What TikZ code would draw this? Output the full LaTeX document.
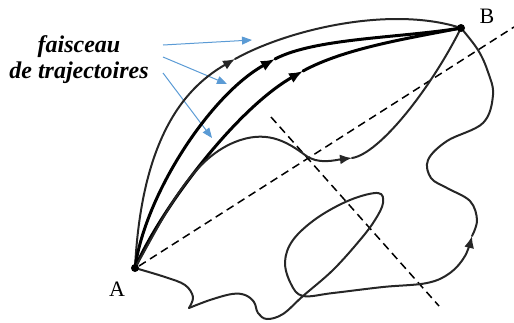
\documentclass[tikz,border=0pt]{standalone}
\usepackage{fontspec}
\setmainfont{Liberation Serif}
\usetikzlibrary{arrows.meta}
\definecolor{arrblue}{RGB}{91,155,213}
\begin{document}
\begin{tikzpicture}[x=1pt,y=-1pt,
  thincurve/.style={line width=2pt, draw=black!85, line cap=round, line join=round},
  thickcurve/.style={line width=3pt, draw=black, line cap=round},
  thintip/.style={-{Latex[length=12pt,width=10pt]}},
  thicktip/.style={-{Latex[length=14pt,width=11pt]}},
  dashline/.style={line width=1.5pt, dash pattern=on 8pt off 5pt},
  bluearrow/.style={draw=arrblue, line width=1pt, -{Triangle[length=10pt,width=8pt]}},
  dotnode/.style={circle, fill=black, inner sep=0pt, minimum size=8pt},
  lbl/.style={font=\fontsize{24}{26}\selectfont\bfseries\itshape, inner sep=0pt},
  ptlabel/.style={font=\fontsize{22}{24}\selectfont, inner sep=0pt}
]
\useasboundingbox (0,0) rectangle (514,322);

% points
\coordinate (A) at (135,268);
\coordinate (B) at (461,28);
\node[ptlabel] (lA) at (117,289) {A};
\node[ptlabel] (lB) at (487,16) {B};

% text
\node[lbl, anchor=base] (t1) at (79,52) {faisceau};
\node[lbl, anchor=base] (t2) at (79,78) {de trajectoires};

% blue arrows
\coordinate (b1s) at (163,45); \coordinate (b1e) at (252,40);
\coordinate (b2s) at (163,57); \coordinate (b2e) at (227,84);
\coordinate (b3s) at (163,73); \coordinate (b3e) at (212,138);
\draw[bluearrow] (b1s) -- (b1e);
\draw[bluearrow] (b2s) -- (b2e);
\draw[bluearrow] (b3s) -- (b3e);

% dashed lines
\coordinate (d1s) at (139,266); \coordinate (d1e) at (514,27);
\coordinate (d2s) at (271,117); \coordinate (d2e) at (439,306);
\draw[dashline] (d1s) -- (d1e);
\draw[dashline] (d2s) -- (d2e);

% outer grey curve
\coordinate (g1) at (235,59);
\draw[thincurve, thintip] (A) .. controls (142,130) and (190,85) .. (g1);
\draw[thincurve] (g1) .. controls (287,30) and (390,5) .. (B);

% thick curve 1
\coordinate (k1) at (275,59);
\draw[thickcurve, thicktip] (A) .. controls (145,195) and (210,95) .. (k1);
\draw[thickcurve] (k1) .. controls (315,38) and (400,38) .. (B);

% thick curve 2
\coordinate (k2) at (303,71);
\draw[thickcurve, thicktip] (A) .. controls (160,210) and (235,110) .. (k2);
\draw[thickcurve] (k2) .. controls (345,48) and (410,38) .. (B);

% wavy curve 1
\coordinate (w1) at (352,158);
\draw[thincurve, thintip] (A) .. controls (165,215) and (190,160) .. (235,142)
  .. controls (265,130) and (285,140) .. (305,155)
  .. controls (318,165) and (335,160) .. (w1);
\draw[thincurve] (w1) .. controls (379,154) and (430,90) .. (B);

% bottom wavy curve
\coordinate (cusp) at (189,308);
\coordinate (w2) at (472,236);
\draw[thincurve] plot[smooth, tension=0.6] coordinates {(A) (165,277) (185,285) (193,297) (cusp)};
\draw[thincurve, thintip] plot[smooth, tension=0.6] coordinates {(cusp) (210,300) (232,294) (245,295) (254,302) (258,313) (267,319) (283,314) (303,296) (333,270) (360,240) (375,220) (383,203) (378,193) (350,200) (317,218) (293,240) (285,262) (291,284) (303,296) (333,293) (383,287) (427,283) (450,273) (465,256) (w2)};
\draw[thincurve] plot[smooth, tension=0.6] coordinates {(w2) (477,220) (470,201) (447,188) (431,178) (428,160) (447,141) (483,123) (493,95) (488,72) (478,50) (B)};

\node[dotnode] (dotA) at (A) {};
\node[dotnode] (dotB) at (B) {};
\end{tikzpicture}
\end{document}
